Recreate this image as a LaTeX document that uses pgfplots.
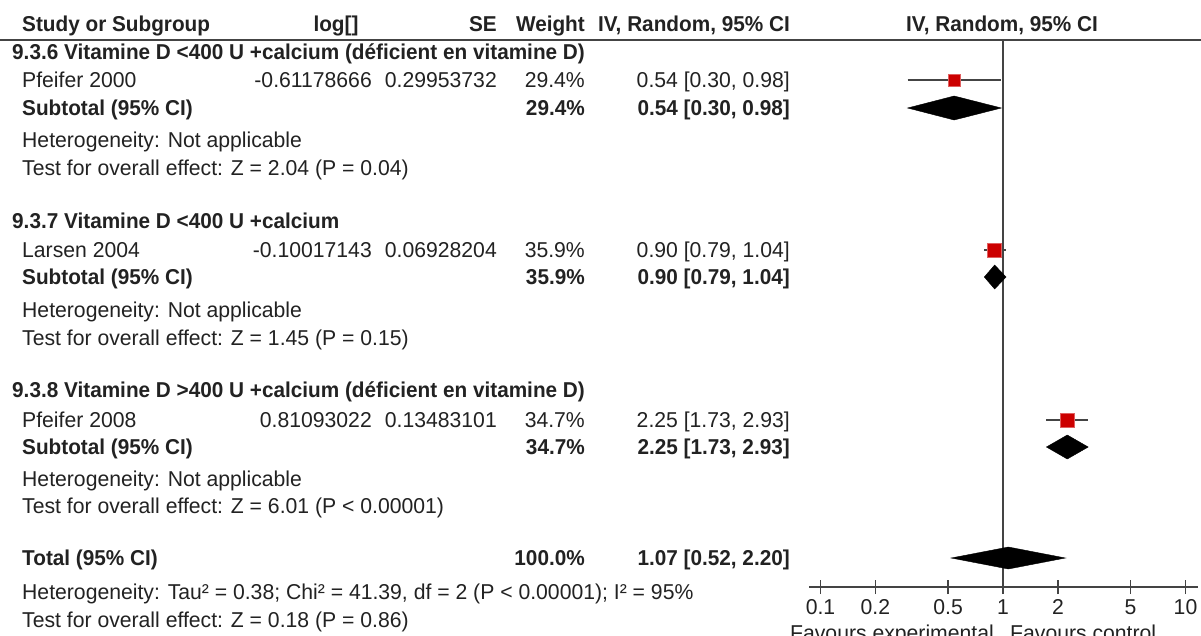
\documentclass[border=0pt]{standalone}
\usepackage{pgfplots}
\pgfplotsset{compat=1.18}
\usepackage{fontspec}
\setmainfont{Liberation Sans}[FakeStretch=0.985, BoldFeatures={FakeStretch=0.965}]
\definecolor{txt}{HTML}{222222}
\definecolor{sq}{HTML}{CC0000}
\definecolor{sqb}{HTML}{E06060}
\definecolor{ln}{HTML}{444444}
\begin{document}
\fontsize{21.5}{26}\selectfont
\begin{tikzpicture}[x=1pt,y=1pt,
  L/.style={anchor=base west, inner sep=0pt, text=txt},
  R/.style={anchor=base east, inner sep=0pt, text=txt},
  C/.style={anchor=base, inner sep=0pt, text=txt}]
\useasboundingbox (0,0) rectangle (1201,635);
\begin{axis}[at={(0pt,0pt)}, anchor=south west, scale only axis,
  width=1201pt, height=635pt, xmin=0, xmax=1201, ymin=0, ymax=635,
  y dir=reverse, hide axis, clip=false]
\addplot[ln, line width=2pt] coordinates {(0,40) (1201,40)};
% header
\node[L] at (axis cs:22,31) {\bfseries Study or Subgroup};
\node[C] at (axis cs:336,31) {\bfseries log[]};
\node[R] at (axis cs:497,31) {\bfseries SE};
\node[R] at (axis cs:585,31) {\bfseries Weight};
\node[R] at (axis cs:790,31) {\bfseries IV, Random, 95\% CI};
\node[C] at (axis cs:1002,31) {\bfseries IV, Random, 95\% CI};
% group 1
\node[L] at (axis cs:12,59) {\bfseries 9.3.6 Vitamine D <400 U +calcium (déficient en vitamine D)};
\node[L] at (axis cs:22,87) {Pfeifer 2000};
\node[R] at (axis cs:372,87) {-0.61178666};
\node[R] at (axis cs:497,87) {0.29953732};
\node[R] at (axis cs:585,87) {29.4\%};
\node[R] at (axis cs:790,87) {0.54 [0.30, 0.98]};
\node[L] at (axis cs:22,115) {\bfseries Subtotal (95\% CI)};
\node[R] at (axis cs:585,115) {\bfseries 29.4\%};
\node[R] at (axis cs:790,115) {\bfseries 0.54 [0.30, 0.98]};
\node[L] at (axis cs:22,147) {Heterogeneity: Not applicable};
\node[L] at (axis cs:22,175) {Test for overall effect: Z = 2.04 (P = 0.04)};
% group 2
\node[L] at (axis cs:12,228) {\bfseries 9.3.7 Vitamine D <400 U +calcium};
\node[L] at (axis cs:22,257) {Larsen 2004};
\node[R] at (axis cs:372,257) {-0.10017143};
\node[R] at (axis cs:497,257) {0.06928204};
\node[R] at (axis cs:585,257) {35.9\%};
\node[R] at (axis cs:790,257) {0.90 [0.79, 1.04]};
\node[L] at (axis cs:22,284) {\bfseries Subtotal (95\% CI)};
\node[R] at (axis cs:585,284) {\bfseries 35.9\%};
\node[R] at (axis cs:790,284) {\bfseries 0.90 [0.79, 1.04]};
\node[L] at (axis cs:22,317) {Heterogeneity: Not applicable};
\node[L] at (axis cs:22,345) {Test for overall effect: Z = 1.45 (P = 0.15)};
% group 3
\node[L] at (axis cs:12,397) {\bfseries 9.3.8 Vitamine D >400 U +calcium (déficient en vitamine D)};
\node[L] at (axis cs:22,427) {Pfeifer 2008};
\node[R] at (axis cs:372,427) {0.81093022};
\node[R] at (axis cs:497,427) {0.13483101};
\node[R] at (axis cs:585,427) {34.7\%};
\node[R] at (axis cs:790,427) {2.25 [1.73, 2.93]};
\node[L] at (axis cs:22,454) {\bfseries Subtotal (95\% CI)};
\node[R] at (axis cs:585,454) {\bfseries 34.7\%};
\node[R] at (axis cs:790,454) {\bfseries 2.25 [1.73, 2.93]};
\node[L] at (axis cs:22,486) {Heterogeneity: Not applicable};
\node[L] at (axis cs:22,513) {Test for overall effect: Z = 6.01 (P < 0.00001)};
% total
\node[L] at (axis cs:22,565) {\bfseries Total (95\% CI)};
\node[R] at (axis cs:585,565) {\bfseries 100.0\%};
\node[R] at (axis cs:790,565) {\bfseries 1.07 [0.52, 2.20]};
\node[L] at (axis cs:22,599) {Heterogeneity: Tau² = 0.38; Chi² = 41.39, df = 2 (P < 0.00001); I² = 95\%};
\node[L] at (axis cs:22,627) {Test for overall effect: Z = 0.18 (P = 0.86)};
% favours
\node[R] at (axis cs:994,640) {Favours experimental};
\node[L] at (axis cs:1010,640) {Favours control};
\end{axis}
\begin{axis}[at={(809pt,48pt)}, anchor=south west, scale only axis,
  width=389pt, height=547pt,
  xmode=log, xmin=0.0865, xmax=11.71, ymin=40, ymax=587, y dir=reverse,
  axis x line*=bottom, axis y line=none,
  x axis line style={ln, line width=1.6pt, -},
  xtick={0.1,0.2,0.5,1,2,5,10}, xticklabels={0.1,0.2,0.5,1,2,5,10},
  minor xtick={}, tick align=center, major tick length=14pt,
  every tick/.style={ln, line width=1.8pt},
  xticklabel style={anchor=base, inner sep=0pt, text=txt, yshift=-20pt},
  clip=false]
\addplot[ln, line width=2pt] coordinates {(1,40) (1,587)};
% study CIs
\addplot[ln, line width=2pt] coordinates {(0.30,80) (0.98,80)};
\addplot[ln, line width=2pt] coordinates {(0.79,250) (1.04,250)};
\addplot[ln, line width=2pt] coordinates {(1.73,420) (2.93,420)};
% study squares
\addplot[only marks, mark=square*, mark size=6pt, mark options={fill=sq, draw=sqb, line width=0.8pt}] coordinates {(0.54,80)};
\addplot[only marks, mark=square*, mark size=7pt, mark options={fill=sq, draw=sqb, line width=0.8pt}] coordinates {(0.90,250)};
\addplot[only marks, mark=square*, mark size=7pt, mark options={fill=sq, draw=sqb, line width=0.8pt}] coordinates {(2.25,420)};
% subtotal diamonds
\addplot[fill=black, draw=black] coordinates {(0.30,108) (0.54,96) (0.98,108) (0.54,120)} -- cycle;
\addplot[fill=black, draw=black] coordinates {(0.79,277) (0.90,265) (1.04,277) (0.90,289)} -- cycle;
\addplot[fill=black, draw=black] coordinates {(1.73,447) (2.25,435) (2.93,447) (2.25,459)} -- cycle;
% total diamond
\addplot[fill=black, draw=black] coordinates {(0.52,558) (1.07,547) (2.20,558) (1.07,569)} -- cycle;
\end{axis}
\end{tikzpicture}
\end{document}
